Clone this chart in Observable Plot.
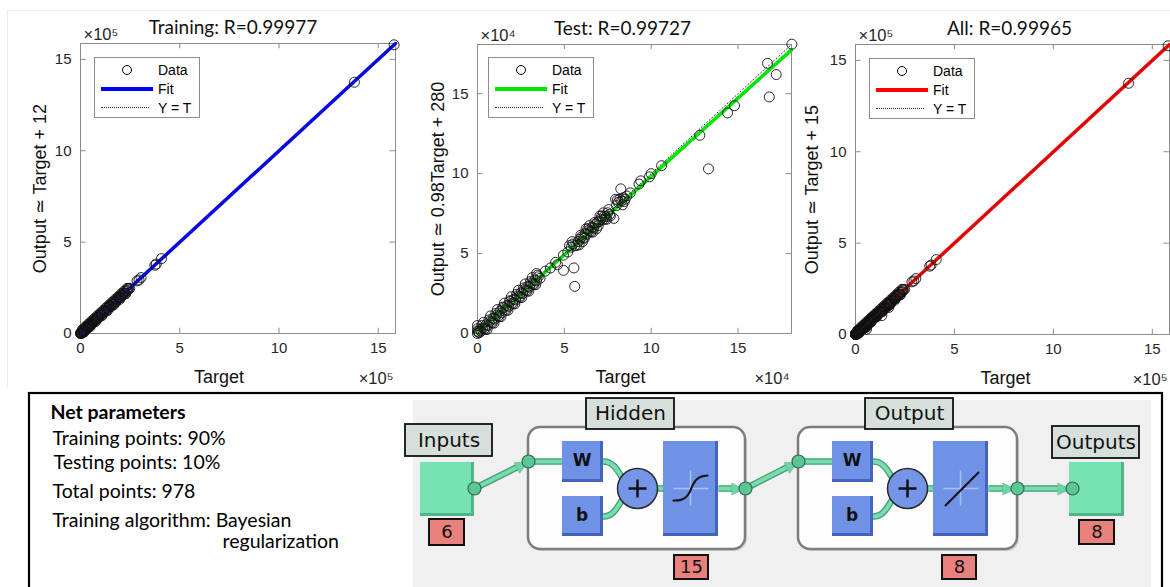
<!DOCTYPE html>
<html>
<head>
<meta charset="utf-8">
<script src="https://cdn.jsdelivr.net/npm/d3@7"></script>
<script src="https://cdn.jsdelivr.net/npm/@observablehq/plot@0.6"></script>
<style>
html,body{margin:0;padding:0;background:#fff;overflow:hidden}
#root{position:relative;width:1170px;height:587px;overflow:hidden;background:#fff}
.abs{position:absolute;top:0}
.figborder{position:absolute;left:7px;top:10px;width:1170px;height:378px;border-left:1px solid #ececec;border-top:1px solid #ececec}
.legend{position:absolute;width:104px;height:59px;border:1px solid #8c8c8c;background:#fff;font-family:"Liberation Sans",Arial,sans-serif;font-size:14px;color:#000}
.lt{position:absolute;left:63px;line-height:16px;white-space:nowrap}
.lc{position:absolute;left:27px;top:7px;width:10px;height:10px;border:1px solid #000;border-radius:50%;box-sizing:border-box}
.ll{position:absolute;left:6px;top:29px;width:52px;height:4px}
.ld{position:absolute;left:6px;top:49px;width:48px;border-top:1.5px dotted #333}
</style>
</head>
<body>
<div id="root"><div class="figborder"></div></div>
<script>
// ---------------- data (regression plots) ----------------
// Training set, units of 1e5
const trainTarget = [0.00,0.01,0.02,0.03,0.04,0.05,0.07,0.09,0.11,0.13,0.15,0.18,0.21,0.24,0.27,0.30,0.34,0.38,0.42,0.46,0.50,0.55,0.60,0.65,0.70,0.75,0.80,0.86,0.92,0.98,1.04,1.10,1.16,1.22,1.28,1.34,1.40,1.46,1.52,1.58,1.64,1.70,1.76,1.82,1.88,1.94,2.00,2.06,2.12,2.18,2.24,2.30,2.36,2.42,2.48,2.85,2.95,3.05,3.75,3.82,4.08,13.8,15.8,
  0.08,0.12,0.2,0.28,0.36,0.44,0.52,0.62,0.72,0.82,0.9,1.0,1.08,1.18,1.3,1.42,1.55,1.66,1.78,1.9,2.02,2.14,2.26,2.38,
  0.1,0.25,0.4,0.55,0.7,0.85,1.0,1.15,1.3,1.45,1.6,1.75,1.9,2.05,2.2,2.35,
  0.17,0.47,0.77,1.07,1.37,1.67,1.97,2.27];
const trainOutput = [0.00,0.03,0.00,0.05,0.02,0.08,0.05,0.11,0.09,0.15,0.13,0.20,0.19,0.27,0.25,0.32,0.33,0.40,0.41,0.49,0.48,0.57,0.58,0.68,0.69,0.77,0.79,0.88,0.91,1.00,1.03,1.12,1.15,1.24,1.27,1.36,1.38,1.48,1.50,1.60,1.63,1.72,1.74,1.84,1.87,1.96,1.98,2.08,2.10,2.20,2.22,2.32,2.35,2.44,2.47,2.88,2.93,3.06,3.74,3.80,4.10,13.75,15.8,
  0.02,0.18,0.12,0.36,0.28,0.52,0.44,0.70,0.64,0.90,0.84,1.08,1.0,1.26,1.22,1.50,1.48,1.74,1.70,1.98,1.96,2.22,2.18,2.45,
  0.22,0.37,0.52,0.67,0.82,0.97,1.12,1.27,1.42,1.57,1.72,1.87,2.02,2.17,2.32,2.47,
  0.07,0.37,0.67,0.97,1.27,1.57,1.87,2.17];
// Test set, units of 1e4
const testTarget = [0,0,0,0,0.05,0.1,0.15,0.2,0.3,0.4,0.5,0.6,0.7,0.8,0.9,1.0,1.1,1.2,1.3,1.4,1.5,1.6,1.7,1.8,1.9,2.0,2.1,2.2,2.3,2.4,2.5,2.6,2.7,2.8,2.9,3.0,3.1,3.2,3.3,3.4,3.5,3.6,3.9,4.2,4.5,4.6,4.95,4.95,5.2,5.4,5.5,5.55,5.6,5.6,5.8,5.9,6.0,6.1,6.2,6.3,6.4,6.5,6.6,6.7,6.8,6.9,7.0,7.1,7.2,7.3,7.4,7.5,7.6,7.85,7.95,8.0,8.1,8.25,8.3,8.4,8.5,8.6,8.8,9.3,9.4,9.9,10.0,10.6,12.8,13.3,14.4,14.8,16.7,16.8,17.2,18.1,
  0.25,0.45,0.65,0.85,1.05,1.25,1.45,1.65,1.85,2.05,2.25,2.45,2.65,2.85,3.05,3.25,3.45,5.3,5.7,5.95,6.15,6.35,6.55,6.75,6.95,7.15,7.35,7.55,8.2,8.45,
  0.35,0.75,1.15,1.55,1.95,2.35,2.75,3.15,3.4,0.55,0.95,1.35,1.75,2.15,2.55,2.95,3.35,5.45,5.85,6.25,6.65,7.05,7.45,8.05,8.35,6.05,6.45,6.85,7.25,7.65];
const testOutput = [0,0.15,0.3,0.5,0.1,0.05,0.25,0.15,0.35,0.3,0.55,0.5,0.75,0.7,0.95,0.9,1.15,1.1,1.4,1.3,1.6,1.5,1.75,1.7,2.0,1.9,2.15,2.1,2.35,2.3,2.55,2.5,2.75,2.7,2.95,2.9,3.15,3.1,3.35,3.3,3.55,3.45,3.9,4.1,4.45,4.3,4.9,3.95,5.1,5.4,5.6,4.1,5.5,2.95,5.75,5.9,6.05,6.0,6.25,6.2,6.45,6.4,6.65,6.6,6.85,6.95,7.0,7.15,7.1,7.35,7.3,7.55,7.45,7.2,8.4,8.0,8.2,9.05,8.3,8.5,8.4,8.6,8.8,9.35,9.55,9.8,10.0,10.5,12.4,10.3,13.8,14.25,16.9,14.8,16.2,18.1,
  0.5,0.25,0.85,0.65,1.25,1.05,1.65,1.45,2.05,1.85,2.45,2.25,2.85,2.65,3.25,3.05,3.65,5.5,5.5,6.15,5.95,6.55,6.35,6.95,6.75,7.35,7.15,7.75,8.4,8.25,
  0.7,1.1,1.5,1.9,2.3,2.7,3.1,3.5,3.75,0.25,0.65,1.05,1.45,1.85,2.25,2.65,3.05,5.75,5.55,6.55,6.35,7.35,7.15,8.35,8.05,5.75,6.75,6.55,7.55,7.35];
// All = training + test (test rescaled from 1e4 to 1e5 units)
const allTarget = trainTarget.concat(testTarget.map(v => v / 10));
const allOutput = trainOutput.concat(testOutput.map(v => v / 10));

const tickValues = [0, 5, 10, 15];
const titles = ["Training: R=0.99977", "Test: R=0.99727", "All: R=0.99965"];
const yLabels = ["Output \u2243 Target + 12", "Output \u2243 0.98Target + 280", "Output \u2243 Target + 15"];
const exponents = ["\u00d710\u2075", "\u00d710\u2074", "\u00d710\u2075"];
const fitSlopes = [1, 0.98, 1];
const fitIntercepts = [0.00012, 0.028, 0.00015];
const fitColors = ["#0000ff", "#00e600", "#ff0000"];
const axisMax = [15.87, 18.08, 15.87];

// ---------------- bottom panel content ----------------
const paramTitle = ["Net parameters"];
const paramLines = ["Training points: 90%", "Testing points: 10%", "Total points: 978", "Training algorithm: Bayesian", "regularization"];
const layerNames = ["Inputs", "Hidden", "Output", "Outputs"];
const layerSizes = ["6", "15", "8", "8"];
const weightNames = ["W", "b", "W", "b"];

const root = document.getElementById("root");

function regressionChart(i, target, output, geom) {
  const m = axisMax[i];
  const pts = target.map((t, k) => ({t, o: output[k]}));
  const fit = [{t: 0, o: fitIntercepts[i]}, {t: m, o: fitSlopes[i] * m + fitIntercepts[i]}];
  const diag = [{t: 0, o: 0}, {t: m, o: m}];
  const tl = m * 0.018;
  const grey = "#8c8c8c";
  return Plot.plot({
    width: geom.width, height: 390,
    marginLeft: geom.ml, marginRight: geom.mr, marginTop: geom.mt, marginBottom: geom.mb,
    x: {domain: [0, m]}, y: {domain: [0, m]},
    style: {fontFamily: "'Liberation Sans', Arial, sans-serif", fontSize: "15px", color: "#262626", background: "transparent", overflow: "visible"},
    marks: [
      Plot.frame({stroke: grey, strokeWidth: 1}),
      Plot.ruleX(tickValues, {x: d => d, y1: 0, y2: tl, stroke: grey}),
      Plot.ruleX(tickValues, {x: d => d, y1: m, y2: m - tl, stroke: grey}),
      Plot.ruleY(tickValues, {y: d => d, x1: 0, x2: tl, stroke: grey}),
      Plot.ruleY(tickValues, {y: d => d, x1: m, x2: m - tl, stroke: grey}),
      Plot.axisX(tickValues, {tickSize: 0, tickPadding: 9, label: null}),
      Plot.axisY(tickValues, {tickSize: 0, tickPadding: 9, label: null}),
      Plot.line(fit, {x: "t", y: "o", stroke: fitColors[i], strokeWidth: 3.5}),
      Plot.dot(pts, {x: "t", y: "o", r: 5, stroke: "#111", strokeWidth: 0.9, fill: "none"}),
      Plot.line(diag, {x: "t", y: "o", stroke: "#333", strokeWidth: 1, strokeDasharray: "1,2.5"}),
      Plot.text([titles[i]], {text: d => d, frameAnchor: "top", textAnchor: "middle", lineAnchor: "middle", dx: geom.tdx, dy: -16, fontFamily: "Lato, 'Open Sans', sans-serif", fontSize: 19, fill: "#111"}),
      Plot.text([yLabels[i]], {text: d => d, frameAnchor: "left", textAnchor: "middle", lineAnchor: "middle", rotate: -90, dx: geom.ydx, fontSize: 18, fill: "#111"}),
      Plot.text(["Target"], {text: d => d, frameAnchor: "bottom", textAnchor: "middle", lineAnchor: "middle", dx: geom.xdx, dy: 44, fontSize: 18, fill: "#111"}),
      Plot.text([exponents[i]], {text: d => d, frameAnchor: "top-left", textAnchor: "start", lineAnchor: "middle", dx: 3, dy: -9, fontSize: 16.5, fill: "#262626"}),
      Plot.text([exponents[i]], {text: d => d, frameAnchor: "bottom-right", textAnchor: "end", lineAnchor: "middle", dx: -2, dy: 45, fontSize: 16.5, fill: "#262626"})
    ]
  });
}

function place(node, left) {
  const d = document.createElement("div");
  d.className = "abs";
  d.style.left = left + "px";
  d.appendChild(node);
  root.appendChild(d);
}

function makeLegend(left, top, color) {
  const d = document.createElement("div");
  d.className = "legend";
  d.style.left = left + "px";
  d.style.top = top + "px";
  d.innerHTML = `<div class="lc"></div><span class="lt" style="top:4px">Data</span>
    <div class="ll" style="background:${color}"></div><span class="lt" style="top:23px">Fit</span>
    <div class="ld"></div><span class="lt" style="top:42px">Y = T</span>`;
  root.appendChild(d);
}

place(regressionChart(0, trainTarget, trainOutput, {width: 400, ml: 80, mr: 5, mt: 43, mb: 57, tdx: -5, ydx: -40, xdx: -19}), 0);
place(regressionChart(1, testTarget, testOutput, {width: 400, ml: 77, mr: 9, mt: 44, mb: 57, tdx: -12, ydx: -39, xdx: -14}), 400);
place(regressionChart(2, allTarget, allOutput, {width: 380, ml: 65, mr: 1, mt: 44, mb: 56, tdx: -3, ydx: -43, xdx: -7}), 790);
makeLegend(94, 57, fitColors[0]);
makeLegend(488, 57, fitColors[1]);
makeLegend(869, 58, fitColors[2]);

// ---------------- bottom panel (diagram layout in panel pixel units) ----------------
const panelBox = {x1: 29, x2: 1162, y1: 393, y2: 600};
const diagramArea = {x1: 413, x2: 1151, y1: 400, y2: 600};
const paramTitlePos = [50, 412];
const paramPos = [[52, 438], [53, 462], [52, 491], [52, 520], [222, 541]];
const labelBoxes = [{x1: 405, x2: 492, y1: 424, y2: 456}, {x1: 586, x2: 674, y1: 398, y2: 429}, {x1: 865, x2: 953, y1: 398, y2: 429}, {x1: 1052, x2: 1139, y1: 426, y2: 458}];
const sizeBoxes = [{x1: 429, x2: 464, y1: 519, y2: 545}, {x1: 674, x2: 708, y1: 555, y2: 579}, {x1: 942, x2: 976, y1: 555, y2: 579}, {x1: 1079, x2: 1114, y1: 520, y2: 544}];
const ioSquares = [{x1: 420, x2: 474, y1: 462, y2: 516}, {x1: 1069, x2: 1124, y1: 462, y2: 516}];
const layerGroups = [{x1: 528, x2: 745, y1: 427, y2: 549}, {x1: 798, x2: 1017, y1: 427, y2: 549}];
const weightBoxes = [{x1: 562, x2: 603, y1: 441, y2: 482}, {x1: 562, x2: 603, y1: 496, y2: 536}, {x1: 832, x2: 873, y1: 441, y2: 482}, {x1: 832, x2: 873, y1: 496, y2: 536}];
const transferBoxes = [{x1: 663, x2: 718, y1: 441, y2: 536}, {x1: 933, x2: 988, y1: 441, y2: 536}];
const sumNodes = [{x: 637, y: 488}, {x: 907, y: 488}];
const junctions = [{x: 474, y: 488}, {x: 528, y: 461}, {x: 745, y: 488}, {x: 798, y: 461}, {x: 1017, y: 488}, {x: 1072, y: 488}];
const straightLinks = [
  {x1: 474, y1: 488, x2: 520, y2: 465}, {x1: 528, y1: 461, x2: 562, y2: 461}, {x1: 657, y1: 488, x2: 663, y2: 488},
  {x1: 718, y1: 488, x2: 734, y2: 488}, {x1: 745, y1: 488, x2: 790, y2: 465}, {x1: 798, y1: 461, x2: 832, y2: 461},
  {x1: 927, y1: 488, x2: 933, y2: 488}, {x1: 988, y1: 488, x2: 1005, y2: 488}, {x1: 1017, y1: 488, x2: 1060, y2: 488}
];
const curveLinks = [
  [{x: 603, y: 461, k: 0}, {x: 637, y: 488, k: 0}], [{x: 603, y: 516, k: 1}, {x: 637, y: 488, k: 1}],
  [{x: 873, y: 461, k: 2}, {x: 907, y: 488, k: 2}], [{x: 873, y: 516, k: 3}, {x: 907, y: 488, k: 3}]
];
const arrowHeads = [{x: 521, y: 464, a: -26.6}, {x: 737, y: 488, a: 0}, {x: 791, y: 464, a: -26.6}, {x: 1008, y: 488, a: 0}, {x: 1063, y: 488, a: 0}];
const plusStrokes = [{x1: 628, y1: 488, x2: 646, y2: 488}, {x1: 637, y1: 479, x2: 637, y2: 497}, {x1: 898, y1: 488, x2: 916, y2: 488}, {x1: 907, y1: 479, x2: 907, y2: 497}];
const crossHairs = [{x1: 673, y1: 488, x2: 708, y2: 488}, {x1: 690, y1: 470, x2: 690, y2: 505}, {x1: 943, y1: 488, x2: 978, y2: 488}, {x1: 960, y1: 470, x2: 960, y2: 505}];
const sigmoidGlyph = [{x: 673, y: 500}, {x: 680, y: 499.5}, {x: 685, y: 497}, {x: 689, y: 492}, {x: 692, y: 485}, {x: 696, y: 479}, {x: 701, y: 476}, {x: 707, y: 475}];
const linearGlyph = [{x: 945, y: 505}, {x: 978, y: 472}];

const R = {x1: "x1", x2: "x2", y1: "y1", y2: "y2"};
const L = {x1: "x1", y1: "y1", x2: "x2", y2: "y2"};
const shade = (arr, d) => arr.map(b => ({x1: b.x1, x2: b.x2 - d, y1: b.y1, y2: b.y2 - d}));

const bottom = Plot.plot({
  width: 1170, height: 202, margin: 0,
  x: {domain: [0, 1170]}, y: {domain: [587, 385]},
  axis: null,
  style: {background: "transparent", overflow: "hidden"},
  marks: [
    Plot.rect([diagramArea], {...R, fill: "#f0f0f0"}),
    Plot.rect([panelBox], {...R, fill: "none", stroke: "#000", strokeWidth: 2.2}),
    Plot.text(paramTitle, {text: d => d, x: () => paramTitlePos[0], y: () => paramTitlePos[1], fontWeight: "bold", textAnchor: "start", fontFamily: "Lato, 'Open Sans', sans-serif", fontSize: 19.5, fill: "#000"}),
    Plot.text(paramLines, {text: d => d, x: (d, i) => paramPos[i][0], y: (d, i) => paramPos[i][1], textAnchor: "start", fontFamily: "Lato, 'Open Sans', sans-serif", fontSize: 19.5, fill: "#000"}),
    // layer groups
    Plot.rect(layerGroups, {...R, fill: "#d4d4d4", rx: 12, dx: 2, dy: 2}),
    Plot.rect(layerGroups, {...R, fill: "#fdfdfd", stroke: "#7d7d7d", strokeWidth: 2.5, rx: 12}),
    // connections
    Plot.link(straightLinks, {...L, stroke: "#3f9e74", strokeWidth: 6.5}),
    Plot.line(curveLinks.flat(), {x: "x", y: "y", z: "k", curve: "bump-x", stroke: "#3f9e74", strokeWidth: 6.5}),
    Plot.link(straightLinks, {...L, stroke: "#79dcae", strokeWidth: 4}),
    Plot.line(curveLinks.flat(), {x: "x", y: "y", z: "k", curve: "bump-x", stroke: "#79dcae", strokeWidth: 4}),
    Plot.text(arrowHeads, {x: "x", y: "y", rotate: "a", text: () => "\u25b6", fontSize: 15, fill: "#6fd4a4", stroke: "#3f9e74", strokeWidth: 0.6, fontFamily: "DejaVu Sans"}),
    // IO squares
    Plot.rect(ioSquares, {...R, fill: "#4fb587"}),
    Plot.rect(shade(ioSquares, 3), {...R, fill: "#78e3b2"}),
    // weight / bias boxes
    Plot.rect(weightBoxes, {...R, fill: "#4562bd"}),
    Plot.rect(shade(weightBoxes, 3), {...R, fill: "#7092e6"}),
    Plot.text(weightNames, {text: d => d, x: (d, i) => (weightBoxes[i].x1 + weightBoxes[i].x2) / 2 - 1, y: (d, i) => (weightBoxes[i].y1 + weightBoxes[i].y2) / 2 - 1, fontFamily: "DejaVu Sans", fontWeight: "bold", fontSize: 17, fill: "#111"}),
    // transfer boxes
    Plot.rect(transferBoxes, {...R, fill: "#4562bd"}),
    Plot.rect(shade(transferBoxes, 3), {...R, fill: "#7092e6"}),
    Plot.link(crossHairs, {...L, stroke: "#a9bff5", strokeWidth: 1.5}),
    Plot.line(sigmoidGlyph, {x: "x", y: "y", curve: "catmull-rom", stroke: "#111", strokeWidth: 2}),
    Plot.line(linearGlyph, {x: "x", y: "y", stroke: "#111", strokeWidth: 2}),
    // summation nodes
    Plot.dot(sumNodes, {x: "x", y: "y", r: 20, fill: "#7596e8", stroke: "#2b2b2b", strokeWidth: 1.5}),
    Plot.link(plusStrokes, {...L, stroke: "#111", strokeWidth: 2.5}),
    // junction nodes
    Plot.dot(junctions, {x: "x", y: "y", r: 6.5, fill: "#5cc795", stroke: "#2c6b4e", strokeWidth: 1.2}),
    // labels
    Plot.rect(labelBoxes, {...R, fill: "#d7dfdb", stroke: "#111", strokeWidth: 1.8}),
    Plot.text(layerNames, {text: d => d, x: (d, i) => (labelBoxes[i].x1 + labelBoxes[i].x2) / 2, y: (d, i) => (labelBoxes[i].y1 + labelBoxes[i].y2) / 2, fontFamily: "DejaVu Sans", fontSize: 20, fill: "#111"}),
    Plot.rect(sizeBoxes, {...R, fill: "#e8807c", stroke: "#111", strokeWidth: 2}),
    Plot.text(layerSizes, {text: d => d, x: (d, i) => (sizeBoxes[i].x1 + sizeBoxes[i].x2) / 2, y: (d, i) => (sizeBoxes[i].y1 + sizeBoxes[i].y2) / 2, fontFamily: "DejaVu Sans", fontSize: 18, fill: "#111"})
  ]
});
const bd = document.createElement("div");
bd.style.position = "absolute"; bd.style.left = "0px"; bd.style.top = "385px";
bd.appendChild(bottom);
root.appendChild(bd);
</script>
</body>
</html>
